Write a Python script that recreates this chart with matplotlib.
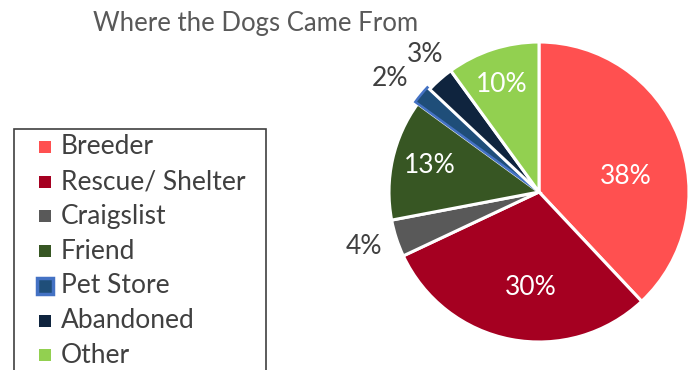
import numpy as np
import matplotlib.pyplot as plt
from matplotlib.patches import Rectangle

plt.rcParams["font.family"] = ["Lato", "DejaVu Sans"]

# data
sources = ["Breeder", "Rescue/ Shelter", "Craigslist", "Friend",
           "Pet Store", "Abandoned", "Other"]
shares = [38, 30, 4, 13, 2, 3, 10]
colors = ["#FF5050", "#A50021", "#595959", "#375623",
          "#1F4E79", "#0F243E", "#92D050"]
inside = [True, True, False, True, False, False, True]

W, H = 694, 370
fig = plt.figure(figsize=(W / 100, H / 100), dpi=100)

# pie axes: centre ~ (539,192), radius ~150 px
ax = fig.add_axes([389 / W, 1 - 342 / H, 300 / W, 300 / H])
explode = [0, 0, 0, 0, 0.02, 0, 0]
wedges, _ = ax.pie(shares, colors=colors, startangle=90, counterclock=False,
                   explode=explode,
                   wedgeprops=dict(edgecolor="white", linewidth=2.2))
wedges[4].set_edgecolor("#4472C4")
wedges[4].set_linewidth(1.8)
ax.set_xlim(-1, 1)
ax.set_ylim(-1, 1)
ax.set_aspect("equal")

# label placement: radius and small angle nudge from the wedge middle
lab_r = [0.59, 0.64, 1.22, 0.75, 1.25, 1.19, 0.76]
lab_da = [-11.2, 6, -0.8, -0.8, 2.2, -1.6, 0.9]
for w, s, r, da, ins in zip(wedges, shares, lab_r, lab_da, inside):
    ang = np.deg2rad((w.theta1 + w.theta2) / 2 + da)
    ax.text(r * np.cos(ang), r * np.sin(ang), f"{s}%",
            ha="center", va="center", fontsize=19,
            color="white" if ins else "#404040", clip_on=False)

fig.text(256 / W, 1 - 23 / H, "Where the Dogs Came From",
         ha="center", va="center", fontsize=18.5, color="#595959")

# legend drawn by hand so it runs off the bottom like the original
fig.add_artist(Rectangle((14 / W, -0.05), (266 - 14) / W, 0.05 + 1 - 129 / H,
                         transform=fig.transFigure, fill=False,
                         edgecolor="#404040", linewidth=1.2))
y0, dy = 147, 34.7
for i, (name, col) in enumerate(zip(sources, colors)):
    y = y0 + i * dy
    if name == "Pet Store":
        sz, ec, lw = 16, "#4472C4", 2.5
    else:
        sz, ec, lw = 12, col, 0
    fig.add_artist(Rectangle(((45 - sz / 2) / W, 1 - (y + sz / 2) / H),
                             sz / W, sz / H,
                             transform=fig.transFigure, facecolor=col,
                             edgecolor=ec, linewidth=lw))
    fig.text(61 / W, 1 - y / H, name, ha="left", va="center",
             fontsize=19, color="#404040")

fig.savefig("out.png", dpi=100)
